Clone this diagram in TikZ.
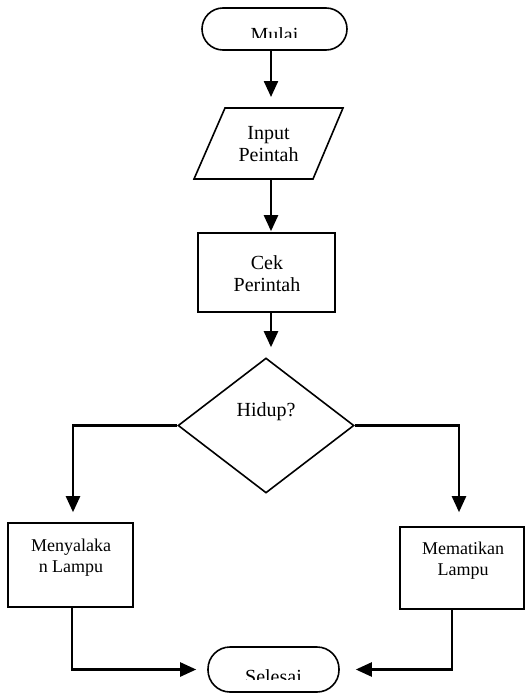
\documentclass[tikz,border=0pt]{standalone}
\usepackage{fontspec}
\setmainfont{Liberation Serif}
\usetikzlibrary{arrows.meta,shapes.geometric}
\begin{document}
\begin{tikzpicture}[x=1pt,y=-1pt,
 box/.style={draw, line width=1.6pt, inner sep=0pt},
 term/.style={box, rounded corners=21pt},
 lbl/.style={font=\fontsize{20}{22}\selectfont, align=center, inner sep=0pt},
 slbl/.style={font=\fontsize{18}{21}\selectfont, align=center, inner sep=0pt},
 arr/.style={line width=2.4pt, -{Triangle[width=14pt,length=16pt]}}]
\useasboundingbox (0,0) rectangle (530,693);
% start
\node[term, minimum width=145pt, minimum height=42pt] (start) at (274.5,29) {};
\begin{scope}
\clip (202,8) rectangle (347,37.5);
\node[lbl, anchor=base] at (274.5,42) {Mulai};
\end{scope}
% input parallelogram
\draw[line width=1.6pt, line join=miter] (225,108) -- (343,108) -- (313,179) -- (194,179) -- cycle;
\coordinate (intop) at (268.5,108);
\coordinate (inbot) at (268.5,179);
\node[lbl] (intext) at (268.5,144) {Input\\Peintah};
% cek
\node[box, minimum width=137pt, minimum height=79pt] (cek) at (266.5,272.5) {};
\node[lbl] at (267,274) {Cek\\Perintah};
% diamond
\node[box, diamond, minimum width=176pt, minimum height=135pt] (dia) at (266,425.5) {};
\node[lbl] at (266,412) {Hidup?};
% boxes
\node[box, minimum width=125pt, minimum height=84pt] (on) at (70.5,565) {};
\node[slbl] at (71,557.5) {Menyalaka\\n Lampu};
\node[box, minimum width=124pt, minimum height=82pt] (off) at (462,568) {};
\node[slbl] at (463,561) {Mematikan\\Lampu};
% end
\node[term, minimum width=131pt, minimum height=45pt, rounded corners=22pt] (end) at (273.5,669.5) {};
\begin{scope}
\clip (208,647) rectangle (339,679);
\node[lbl, anchor=base] at (273.5,683) {Selesai};
\end{scope}
% axis
\coordinate (axis) at (271,0);
% connectors
\draw[arr, shorten >=11pt] (start.south -| axis) -- (intop -| axis);
\draw[arr, shorten >=1pt] (inbot -| axis) -- (cek.north -| axis);
\draw[arr, shorten >=10pt] (cek.south -| axis) -- (dia.north -| axis);
\draw[arr, shorten >=10pt] (dia.west) -| (on.north -| 73,0);
\draw[arr, shorten >=14pt] (dia.east) -| (off.north -| 459,0);
\draw[arr, shorten >=11pt] (on.south -| 72,0) |- (end.west);
\draw[arr, shorten >=16pt] (off.south -| 452,0) |- (end.east);
\end{tikzpicture}
\end{document}
